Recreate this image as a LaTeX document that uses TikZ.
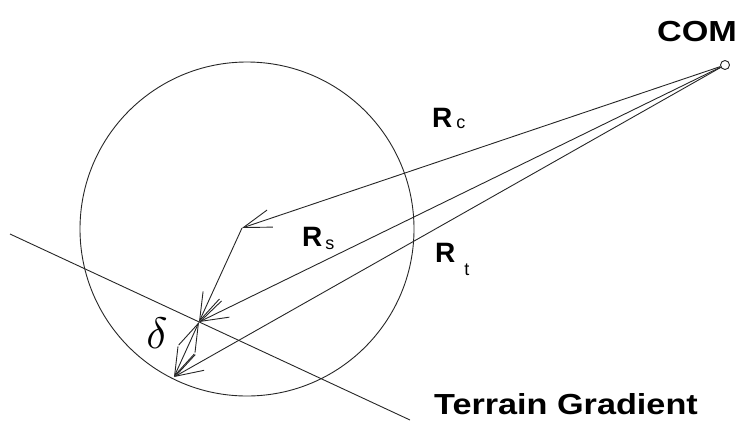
\documentclass[tikz,border=0pt]{standalone}
\usepackage{fontspec}
\usetikzlibrary{arrows.meta}
\newfontfamily\lblfont[FakeStretch=1.18]{Liberation Sans}
\newfontfamily\rfont{Liberation Sans}
\tikzset{
  ln/.style={line width=0.9pt, draw=black!85},
  barb/.tip={Straight Barb[length=28pt,width=18pt,line width=0.9pt]},
  vec/.style={ln, -barb},
  biglabel/.style={font=\lblfont\bfseries\fontsize{29}{30}\selectfont, inner sep=0pt},
  rlabel/.style={font=\rfont\bfseries\fontsize{28}{30}\selectfont, inner sep=0pt, anchor=base west},
}
\newcommand{\rsub}[2]{\raisebox{-#2}{\mdseries\fontsize{18}{19}\selectfont #1}}
\begin{document}
\begin{tikzpicture}[x=1pt,y=-1pt]
\useasboundingbox (0,0) rectangle (741,424);
% body and terrain
\draw[ln] (247,229) circle[radius=167pt];
\coordinate (g1) at (10,234);
\coordinate (g2) at (410,420);
\draw[ln] (g1) -- (g2);
% points
\node[ln, draw, circle, minimum size=9pt, inner sep=0pt] (com) at (725,65) {};
\coordinate (cg) at (242,228);
\coordinate (ct) at (199,322);
\coordinate (tp) at (174,377);
% vectors
\draw[vec] (com) -- (cg);
\draw[vec] (com) -- (ct);
\draw[vec] (com) -- (tp);
\draw[vec] (cg) -- (ct);
\draw[ln, barb-barb] (ct) -- (tp);
% labels
\node[biglabel] (lcom) at (697,32) {COM};
\node[biglabel] (lterrain) at (566,404) {Terrain Gradient};
\node[rlabel] (lrc) at (432,127) {R\hspace{4pt}\rsub{c}{1pt}};
\node[rlabel] (lrs) at (302,246) {R\hspace{3pt}\rsub{s}{3pt}};
\node[rlabel] (lrt) at (435,262) {R\hspace{9pt}\rsub{t}{13pt}};
\node[inner sep=0pt] (ldelta) at (157,333) {\scalebox{4.4}{$\delta$}};
\end{tikzpicture}
\end{document}
